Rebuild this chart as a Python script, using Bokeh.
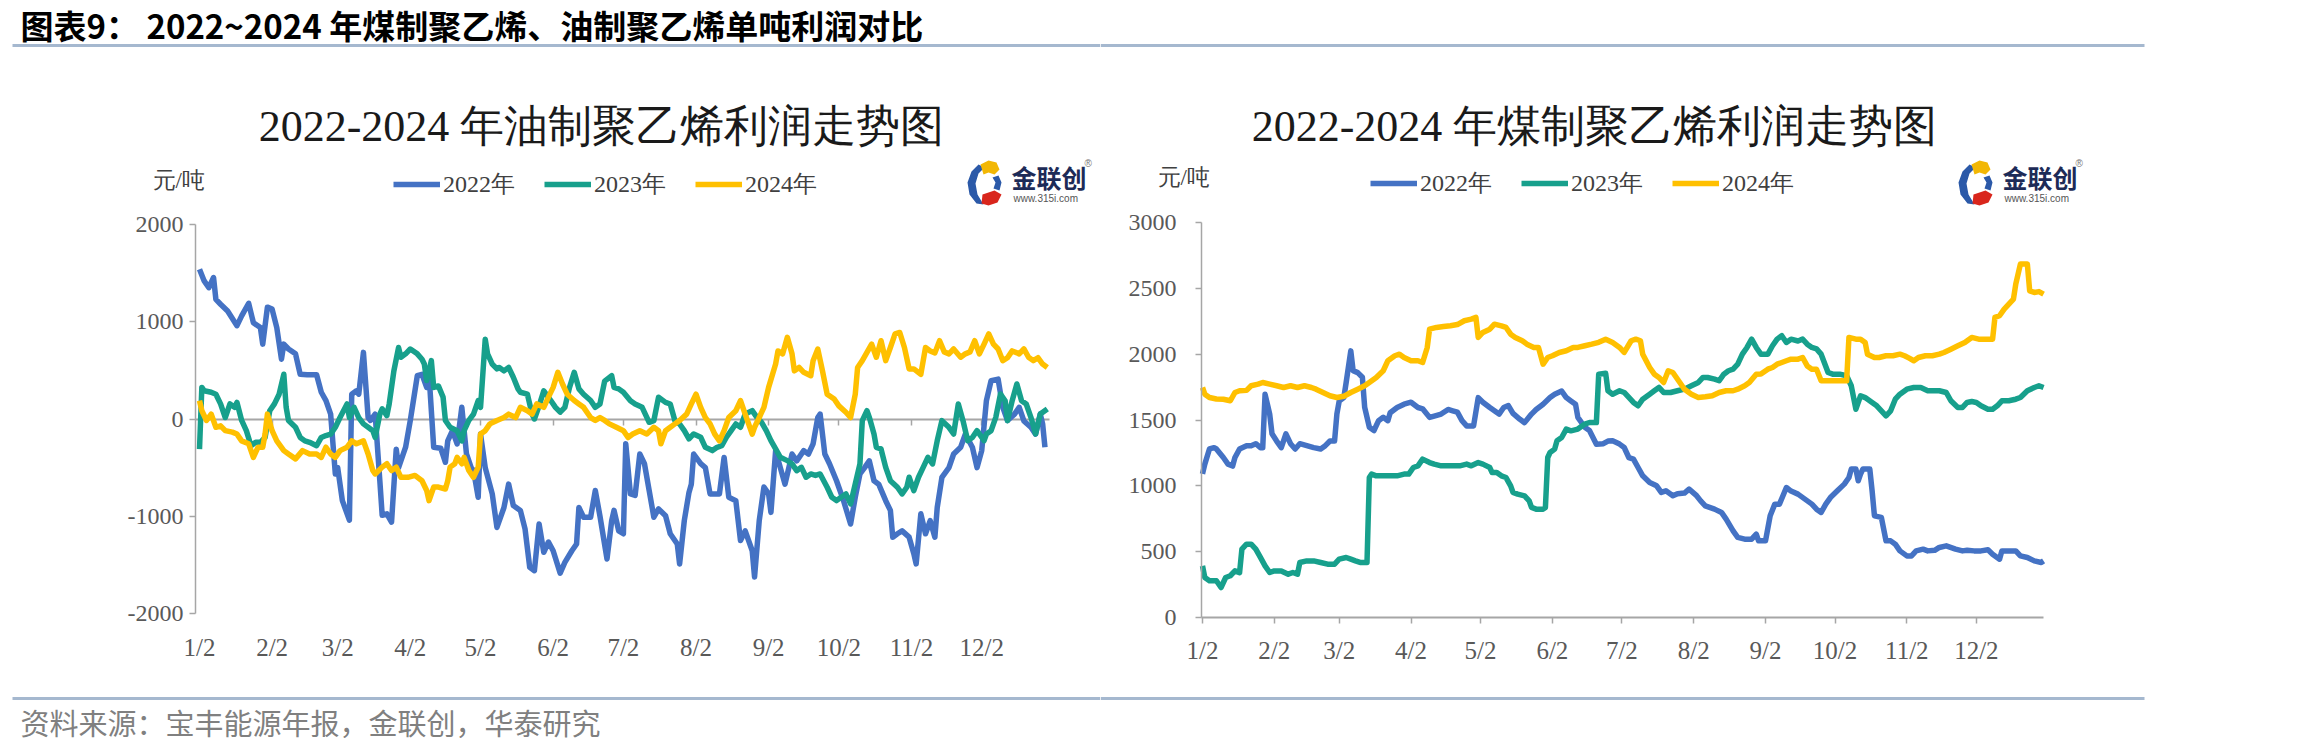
from bokeh.plotting import figure
from bokeh.models import (Range1d, FixedTicker, LinearAxis, Label, Legend, LegendItem,
                          BoxAnnotation, PolyAnnotation)
from bokeh.layouts import row
from bokeh.embed import file_html
from bokeh.resources import INLINE

# ---------------- data ----------------
month_ticks = [0, 31, 59, 90, 120, 151, 181, 212, 243, 273, 304, 334]
month_labels = ["1/2", "2/2", "3/2", "4/2", "5/2", "6/2", "7/2", "8/2", "9/2", "10/2", "11/2", "12/2"]
oil_y_ticks = [-2000, -1000, 0, 1000, 2000]
coal_y_ticks = [0, 500, 1000, 1500, 2000, 2500, 3000]
series_names = ["2022年", "2023年", "2024年"]
series_colors = ["#4472C4", "#17A08C", "#FFC000"]

# (days after 1/2, yuan/ton)  -- oil-based PE profit
oil_2022 = [(0,1540),(2,1420),(4,1350),(6,1455),(7,1230),(9,1180),(12,1110),(16,960),(18,1060),(21,1190),(23,990),(26,940),(27,770),(29,1150),(31,1130),(33,940),(35,615),(36,770),(38,720),(41,670),(43,460),(46,455),(50,455),(52,275),(54,190),(56,50),(58,-565),(59,-500),(61,-840),(64,-1040),(65,255),(67,290),(68,255),(70,685),(72,15),(73,-15),(75,50),(77,-635),(78,-990),(80,-975),(82,-1060),(84,-310),(85,-500),(88,-290),(90,-15),(93,445),(95,460),(97,325),(98,460),(100,-290),(103,-300),(105,-445),(106,-225),(108,-120),(110,-255),(112,120),(114,-360),(116,-500),(117,-530),(119,-805),(120,-155),(122,-500),(125,-770),(127,-1115),(130,-910),(132,-670),(134,-890),(137,-940),(139,-1130),(141,-1525),(143,-1560),(145,-1080),(147,-1370),(149,-1265),(151,-1355),(154,-1585),(156,-1475),(159,-1355),(161,-1285),(162,-910),(164,-1010),(167,-1010),(169,-735),(171,-1000),(174,-1440),(176,-1045),(177,-940),(179,-1150),(181,-1180),(182,-255),(184,-770),(186,-785),(188,-360),(190,-460),(192,-735),(194,-1010),(196,-925),(199,-995),(201,-1180),(204,-1285),(205,-1490),(207,-1045),(209,-755),(210,-670),(211,-360),(214,-460),(216,-500),(218,-770),(222,-770),(224,-395),(226,-805),(229,-840),(231,-1250),(233,-1150),(236,-1355),(237,-1625),(239,-1045),(241,-700),(243,-770),(244,-960),(246,-325),(248,-500),(250,-670),(253,-360),(255,-430),(258,-325),(260,-360),(262,-255),(264,15),(265,50),(267,-360),(269,-460),(272,-635),(275,-840),(278,-1080),(280,-805),(282,-565),(284,-500),(286,-430),(288,-635),(290,-670),(293,-840),(295,-940),(296,-1215),(298,-1180),(300,-1150),(303,-1215),(305,-1385),(306,-1490),(308,-975),(310,-1180),(312,-1045),(314,-1215),(315,-910),(317,-600),(320,-500),(322,-360),(325,-290),(327,-155),(330,-290),(332,-500),(334,-325),(336,190),(338,395),(341,410),(343,120),(345,-15),(348,50),(350,120),(352,-20),(355,-85),(357,-155),(359,50),(360,-50),(361,-290)]
oil_2023 = [(0,-310),(1,325),(2,290),(5,275),(7,255),(9,155),(11,15),(13,155),(15,120),(16,170),(18,-15),(20,-120),(22,-275),(24,-240),(26,-240),(28,-190),(30,85),(32,155),(34,255),(36,460),(37,120),(38,-15),(41,-85),(43,-190),(45,-225),(47,-240),(50,-275),(52,-190),(54,-170),(56,-155),(58,-85),(60,15),(63,155),(64,15),(66,120),(68,15),(70,-50),(72,-85),(74,-120),(75,-190),(77,50),(78,105),(80,35),(81,155),(83,495),(85,735),(86,635),(88,670),(90,720),(93,670),(95,615),(96,565),(97,395),(99,600),(100,325),(102,340),(104,225),(105,-15),(107,-85),(110,-120),(112,-225),(113,-120),(115,-15),(117,50),(119,190),(120,120),(122,820),(123,670),(125,565),(127,515),(128,530),(130,495),(132,530),(134,430),(136,310),(137,275),(140,255),(142,50),(143,0),(145,135),(147,290),(150,190),(152,120),(154,70),(156,120),(158,325),(160,480),(162,310),(164,255),(167,190),(169,120),(171,155),(173,390),(176,445),(177,325),(179,310),(181,275),(184,188),(186,154),(189,120),(192,-34),(194,-17),(196,223),(199,171),(201,154),(203,-17),(205,-51),(207,-120),(209,-205),(211,-154),(214,-188),(216,-291),(219,-325),(221,-291),(223,-275),(225,-188),(227,-120),(229,-51),(231,-85),(233,51),(236,86),(238,17),(240,-34),(242,-120),(244,-223),(246,-308),(248,-394),(251,-428),(253,-462),(255,-531),(257,-497),(259,-599),(261,-565),(263,-580),(265,-565),(268,-702),(270,-805),(272,-839),(274,-805),(276,-770),(278,-873),(280,-668),(282,-462),(283,-17),(285,86),(286,17),(288,-154),(289,-291),(291,-308),(293,-497),(295,-634),(298,-702),(300,-770),(302,-702),(303,-599),(305,-736),(307,-599),(309,-497),(311,-394),(313,-462),(315,-223),(317,-17),(320,-86),(322,-154),(324,154),(326,-17),(328,-223),(330,-190),(332,-120),(335,-223),(336,-154),(338,-120),(340,17),(342,257),(344,188),(345,-17),(347,188),(349,360),(351,188),(353,154),(355,17),(357,-154),(359,51),(362,103)]
oil_2024 = [(0,190),(1,85),(3,-15),(5,50),(7,-85),(9,-70),(11,-120),(14,-135),(16,-155),(18,-225),(21,-255),(23,-395),(25,-290),(27,-290),(28,-155),(29,50),(31,-120),(33,-225),(36,-325),(38,-360),(41,-410),(44,-325),(47,-360),(50,-360),(52,-395),(54,-290),(56,-360),(58,-395),(60,-325),(63,-290),(65,-225),(67,-255),(70,-225),(72,-360),(74,-530),(75,-565),(78,-495),(80,-460),(82,-530),(84,-495),(86,-600),(89,-600),(92,-580),(95,-635),(97,-735),(98,-840),(100,-700),(102,-700),(105,-720),(106,-635),(107,-495),(109,-460),(110,-395),(112,-460),(113,-395),(115,-530),(117,-600),(119,-495),(120,-155),(122,-120),(124,-50),(127,-15),(130,15),(132,50),(135,15),(137,120),(140,85),(142,50),(144,155),(147,120),(149,225),(151,325),(153,480),(155,360),(157,255),(160,190),(162,155),(164,120),(167,15),(169,-15),(171,15),(173,-15),(175,-50),(178,-85),(181,-120),(183,-190),(185,-155),(188,-120),(191,-155),(194,-85),(196,-120),(197,-255),(199,-120),(201,-85),(203,-50),(205,-15),(208,50),(210,155),(212,255),(214,120),(216,15),(218,-50),(220,-155),(222,-225),(224,-120),(226,15),(229,85),(231,190),(233,50),(236,-155),(237,-85),(239,15),(241,120),(243,325),(246,565),(247,700),(249,670),(251,840),(253,670),(254,495),(256,530),(258,480),(261,445),(262,600),(264,720),(266,495),(268,255),(271,205),(273,135),(276,70),(278,15),(280,255),(281,530),(283,600),(285,685),(287,770),(289,635),(291,805),(293,600),(295,735),(297,875),(299,890),(301,735),(303,515),(305,515),(308,460),(310,735),(312,700),(314,680),(316,805),(318,690),(320,670),(322,720),(325,635),(327,670),(329,690),(331,805),(333,670),(335,770),(337,875),(339,770),(341,720),(343,600),(345,630),(347,700),(350,670),(352,720),(354,635),(356,600),(358,630),(360,565),(362,530)]

# coal-based PE profit
coal_2022 = [(0,1090),(1,1165),(3,1280),(5,1290),(6,1280),(9,1215),(11,1165),(13,1150),(14,1215),(16,1280),(19,1305),(21,1305),(23,1320),(25,1290),(26,1290),(27,1695),(29,1545),(30,1395),(32,1340),(34,1290),(36,1395),(38,1320),(40,1280),(42,1320),(45,1305),(48,1290),(51,1280),(53,1305),(55,1340),(57,1340),(58,1545),(59,1645),(61,1670),(62,1785),(64,2025),(65,1875),(67,1860),(69,1825),(70,1595),(72,1445),(74,1420),(76,1495),(78,1520),(80,1495),(81,1555),(84,1595),(87,1620),(90,1635),(93,1595),(95,1585),(98,1520),(100,1530),(103,1545),(106,1580),(108,1570),(110,1560),(112,1495),(114,1455),(117,1455),(119,1670),(121,1635),(124,1595),(126,1570),(128,1545),(130,1595),(132,1610),(134,1550),(137,1505),(139,1480),(142,1545),(144,1580),(147,1620),(150,1670),(152,1695),(155,1720),(157,1670),(159,1645),(161,1620),(162,1520),(165,1445),(167,1420),(170,1315),(173,1320),(175,1340),(177,1342),(180,1317),(182,1291),(184,1215),(186,1203),(188,1139),(190,1076),(193,1025),(196,1000),(198,950),(200,962),(203,924),(205,940),(208,945),(210,975),(213,930),(215,886),(217,848),(221,823),(224,798),(226,747),(229,658),(231,608),(234,595),(237,595),(239,633),(240,582),(243,582),(245,772),(247,861),(249,861),(252,987),(254,960),(257,937),(260,899),(263,861),(265,823),(267,798),(269,861),(271,911),(274,962),(277,1013),(279,1063),(280,1127),(282,1127),(283,1038),(284,1089),(285,1127),(288,1127),(289,962),(290,772),(293,760),(295,582),(297,582),(299,557),(301,506),(304,468),(306,468),(308,506),(311,519),(313,506),(316,510),(318,532),(321,544),(325,519),(328,506),(330,510),(333,506),(336,506),(339,515),(341,481),(344,443),(345,506),(348,506),(351,506),(353,468),(356,456),(359,430),(362,418),(363,430)]
coal_2023 = [(0,392),(1,304),(3,279),(6,279),(8,228),(10,304),(12,317),(14,354),(16,340),(17,519),(19,557),(21,557),(23,519),(25,456),(27,392),(29,342),(31,354),(34,354),(37,329),(39,342),(41,329),(42,418),(45,430),(48,430),(51,418),(54,405),(57,405),(59,443),(62,456),(64,443),(66,430),(68,418),(71,418),(72,1063),(73,1089),(75,1076),(78,1076),(81,1076),(84,1076),(87,1089),(89,1089),(91,1139),(93,1152),(95,1203),(98,1177),(100,1165),(103,1152),(106,1152),(108,1152),(111,1152),(114,1165),(116,1152),(119,1177),(121,1165),(124,1139),(125,1101),(127,1101),(129,1076),(131,1063),(133,1000),(134,950),(136,937),(139,924),(141,886),(142,836),(144,823),(147,823),(148,836),(149,1215),(150,1253),(152,1279),(153,1342),(155,1367),(157,1431),(159,1418),(162,1431),(165,1469),(167,1481),(170,1481),(171,1848),(174,1855),(175,1722),(177,1696),(180,1722),(182,1709),(184,1671),(186,1633),(188,1608),(190,1658),(193,1696),(195,1722),(197,1747),(199,1709),(202,1709),(205,1722),(208,1734),(211,1760),(214,1785),(216,1823),(218,1823),(221,1810),(223,1798),(225,1848),(227,1874),(229,1886),(231,1924),(233,2000),(235,2051),(237,2114),(239,2051),(241,2000),(244,2000),(246,2064),(248,2114),(250,2140),(252,2089),(254,2114),(257,2100),(259,2114),(261,2076),(263,2051),(265,2040),(267,2000),(270,1861),(272,1848),(275,1848),(278,1836),(280,1760),(282,1582),(284,1684),(286,1670),(289,1633),(291,1608),(293,1570),(295,1532),(297,1570),(299,1658),(301,1696),(304,1734),(307,1747),(310,1747),(313,1722),(315,1722),(318,1722),(321,1709),(323,1646),(326,1595),(328,1595),(330,1633),(332,1640),(334,1633),(336,1608),(339,1582),(341,1582),(343,1608),(345,1646),(348,1646),(351,1658),(353,1671),(356,1722),(359,1747),(361,1760),(363,1747)]
coal_2024 = [(0,1747),(1,1696),(3,1671),(6,1660),(9,1658),(12,1646),(14,1709),(16,1722),(19,1725),(21,1760),(24,1772),(26,1785),(29,1772),(32,1760),(35,1747),(38,1760),(41,1747),(44,1760),(47,1747),(49,1734),(52,1709),(55,1684),(58,1671),(61,1680),(64,1709),(67,1734),(70,1760),(72,1785),(75,1823),(78,1874),(80,1950),(83,1988),(85,2000),(87,1975),(90,1950),(93,1950),(95,1937),(97,2051),(98,2190),(101,2203),(104,2210),(107,2216),(110,2225),(113,2254),(116,2266),(118,2279),(119,2127),(121,2165),(124,2190),(126,2228),(129,2215),(131,2203),(133,2152),(135,2127),(138,2102),(140,2076),(143,2051),(145,2051),(146,1988),(147,1924),(149,1975),(151,1988),(154,2013),(157,2026),(160,2051),(162,2051),(165,2064),(168,2076),(171,2090),(174,2114),(177,2089),(180,2051),(182,2013),(185,2102),(187,2114),(189,2102),(190,2000),(193,1899),(195,1848),(197,1823),(199,1785),(201,1874),(203,1861),(206,1785),(208,1734),(211,1696),(214,1671),(217,1676),(220,1684),(223,1709),(226,1722),(229,1722),(231,1734),(234,1760),(236,1785),(239,1848),(241,1850),(244,1886),(246,1899),(248,1924),(250,1937),(252,1950),(254,1962),(257,1962),(259,1975),(261,1911),(263,1886),(265,1886),(267,1798),(278,1798),(279,2127),(282,2114),(284,2114),(286,2089),(287,2000),(290,1975),(292,1975),(295,1988),(298,1988),(301,2000),(303,1988),(305,1970),(307,1950),(309,1975),(312,1988),(315,1988),(318,2000),(320,2013),(323,2038),(326,2064),(329,2089),(332,2127),(335,2114),(338,2114),(341,2114),(342,2279),(344,2292),(346,2342),(348,2380),(350,2418),(351,2532),(353,2684),(354,2684),(356,2684),(357,2481),(359,2469),(361,2475),(363,2456)]

header_text = "图表9： 2022~2024 年煤制聚乙烯、油制聚乙烯单吨利润对比"
footer_text = "资料来源：宝丰能源年报，金联创，华泰研究"
oil_title = "2022-2024 年油制聚乙烯利润走势图"
coal_title = "2022-2024 年煤制聚乙烯利润走势图"
unit_text = "元/吨"

# ---------------- layout constants (page pixels) ----------------
W, H = 2298, 751
SPLIT = 1100
SERIF = "Liberation Serif"
CJK = "Noto Sans CJK SC"
AXIS_GRAY = "#A6A6A6"
LABEL_GRAY = "#595959"
RULE = "#A5B8CF"


def make_fig(fig_left, width, x0px, pxday, y0px, pxunit):
    # frame == whole figure; ranges chosen so the data land at the right page pixels
    xr = Range1d((fig_left - x0px) / pxday, (fig_left + width - x0px) / pxday)
    yr = Range1d((y0px - H) / pxunit, y0px / pxunit)
    p = figure(width=width, height=H, x_range=xr, y_range=yr, title=None,
               output_backend="svg", toolbar_location=None,
               x_axis_location=None, y_axis_location=None, min_border=0)
    p.grid.visible = False
    p.outline_line_color = None
    p.background_fill_color = "white"
    p.border_fill_color = "white"
    return p


p1 = make_fig(0, SPLIT, 199, 2.342, 418.5, 389 / 4000)
p2 = make_fig(SPLIT, W - SPLIT, 1202, 2.317, 617, 395 / 3000)


def y_axis(p, ticks, xloc, standoff):
    ya = LinearAxis(fixed_location=xloc, bounds=(ticks[0], ticks[-1]),
                    ticker=FixedTicker(ticks=ticks),
                    major_label_overrides={t: str(t) for t in ticks},
                    axis_line_color=AXIS_GRAY, axis_line_width=1.5,
                    major_tick_line_color=AXIS_GRAY, major_tick_line_width=1.5,
                    major_tick_out=6, major_tick_in=0, minor_tick_line_color=None,
                    major_label_standoff=standoff, major_label_text_font=SERIF,
                    major_label_text_font_size="24px", major_label_text_color=LABEL_GRAY)
    p.add_layout(ya, "left")


def x_axis(p, yloc, bounds, show_line, standoff, labels=True, level="guide"):
    xa = LinearAxis(fixed_location=yloc, bounds=bounds,
                    ticker=FixedTicker(ticks=month_ticks),
                    major_label_overrides=dict(zip(month_ticks, month_labels if labels else [""] * 12)),
                    axis_line_color=AXIS_GRAY if show_line else None, axis_line_width=2,
                    major_tick_line_color=AXIS_GRAY if show_line else None,
                    major_tick_line_width=1.5,
                    major_tick_out=6 if show_line else 0, major_tick_in=0,
                    minor_tick_line_color=None,
                    major_label_standoff=standoff, major_label_text_font=SERIF,
                    major_label_text_font_size="25px", major_label_text_color=LABEL_GRAY,
                    level=level)
    p.add_layout(xa, "below")


# left chart axes
y_axis(p1, oil_y_ticks, -1.7, 6)
x_axis(p1, -2000, (-1.7, 363), False, 20)            # labels at the bottom
x_axis(p1, 0, (-1.7, 363), True, 0, labels=False, level="underlay")  # zero line
# right chart axes
y_axis(p2, coal_y_ticks, -0.43, 19)
x_axis(p2, 0, (-0.43, 363), True, 13)


def draw_series(p, data_list):
    rs = []
    for data, color in zip(data_list, series_colors):
        xs = [d for d, v in data]
        ys = [v for d, v in data]
        rs.append(p.line(xs, ys, line_color=color, line_width=5.5, line_join="round"))
    return rs


r1 = draw_series(p1, [oil_2022, oil_2023, oil_2024])
r2 = draw_series(p2, [coal_2022, coal_2023, coal_2024])


def add_legend(p, fig_left, renderers, gx, gy_center):
    lg = Legend(items=[LegendItem(label=n, renderers=[r]) for n, r in zip(series_names, renderers)],
                orientation="horizontal", location=(gx - fig_left, H - gy_center - 14),
                glyph_width=47, glyph_height=28, label_height=28, label_standoff=3,
                spacing=29, padding=0, margin=0,
                border_line_color=None, background_fill_alpha=0,
                label_text_font=SERIF, label_text_font_size="24px", label_text_color="#404040")
    p.add_layout(lg)


add_legend(p1, 0, r1, 393, 186)
add_legend(p2, SPLIT, r2, 1370, 185)


def label(p, fig_left, gx, gy, text, size, font=SERIF, color="#1a1a1a", align="left",
          weight="normal"):
    p.add_layout(Label(x=gx - fig_left, y=H - gy, x_units="screen", y_units="screen", text=text,
                       text_font=font, text_font_size=size, text_color=color,
                       text_align=align, text_baseline="middle", text_font_style=weight))


def hline(p, fig_left, gx0, gx1, gy, color, thick):
    p.add_layout(BoxAnnotation(left=gx0 - fig_left, right=gx1 - fig_left,
                               top=H - gy + thick / 2, bottom=H - gy - thick / 2,
                               left_units="screen", right_units="screen",
                               top_units="screen", bottom_units="screen",
                               fill_color=color, fill_alpha=1, line_color=None))


def poly(p, fig_left, pts, color):
    p.add_layout(PolyAnnotation(xs=[x - fig_left for x, y in pts], ys=[H - y for x, y in pts],
                                xs_units="screen", ys_units="screen",
                                fill_color=color, fill_alpha=1, line_color=None))


def logo(p, fig_left, ox, oy):
    blue, yellow, red = "#2B59A8", "#F2B705", "#D9261C"
    shapes = [
        ([(12, 4), (5, 11), (1, 22), (3, 34), (10, 43), (17, 44), (11, 34), (9, 23), (12, 13), (18, 7)], blue),
        ([(14, 4), (22, 0), (30, 2), (33, 9), (28, 14), (22, 12), (17, 14)], yellow),
        ([(26, 17), (32, 15), (35, 22), (33, 30), (27, 28), (29, 22)], blue),
        ([(16, 34), (28, 30), (35, 34), (31, 42), (22, 45), (15, 43)], red),
    ]
    for pts, c in shapes:
        poly(p, fig_left, [(ox + a, oy + b) for a, b in pts], c)
    label(p, fig_left, ox + 45, oy + 16, "金联创", "25px", font=CJK, color="#1d2b57", weight="bold")
    label(p, fig_left, ox + 47, oy + 38, "www.315i.com", "10px", font="Liberation Sans", color="#555555")
    label(p, fig_left, ox + 118, oy + 3, "®", "10px", font="Liberation Sans", color="#777777")


# ---- left figure decorations ----
label(p1, 0, 20, 24, header_text, "33px", font=CJK, color="#000000", weight="bold")
hline(p1, 0, 12, SPLIT, 45, RULE, 3)
hline(p1, 0, 12, SPLIT, 698, RULE, 3)
label(p1, 0, 20, 721, footer_text, "29px", font=CJK, color="#808080")
label(p1, 0, 601, 126, oil_title, "44px", align="center")
label(p1, 0, 152, 180, unit_text, "23px", color="#404040")
logo(p1, 0, 966, 160)

# ---- right figure decorations ----
hline(p2, SPLIT, SPLIT, 2144, 45, RULE, 3)
hline(p2, SPLIT, SPLIT, 2144, 698, RULE, 3)
label(p2, SPLIT, 1594, 126, coal_title, "44px", align="center")
label(p2, SPLIT, 1157, 177, unit_text, "23px", color="#404040")
logo(p2, SPLIT, 1957, 160)

layout = row(p1, p2)
open("out.html", "w").write(file_html(layout, INLINE))
